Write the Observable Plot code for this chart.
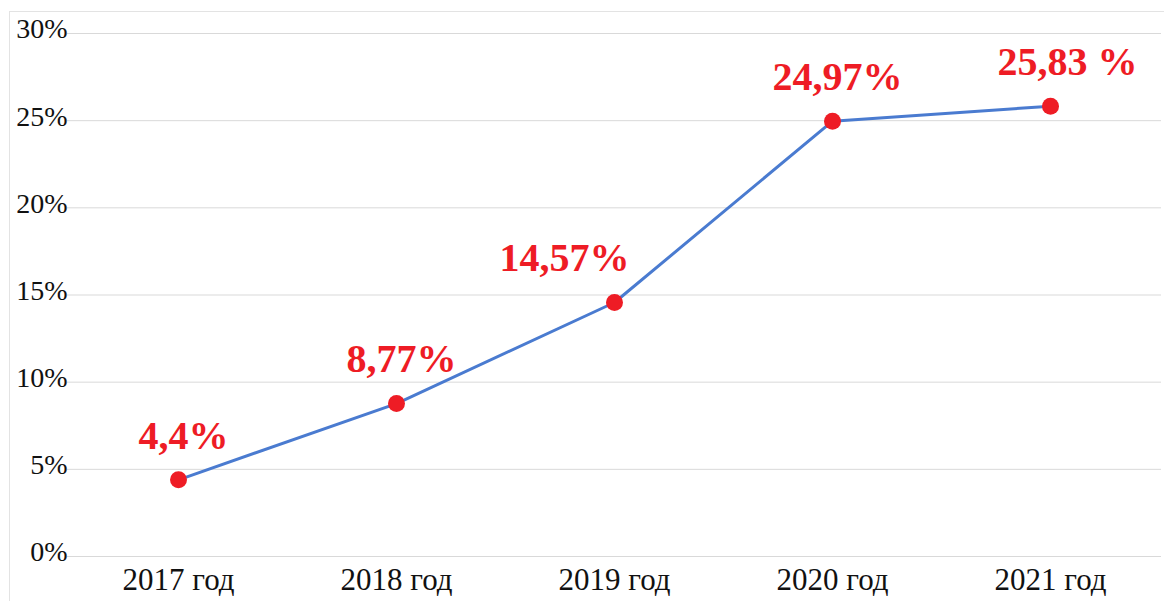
<!DOCTYPE html>
<html>
<head>
<meta charset="utf-8">
<script src="https://cdn.jsdelivr.net/npm/d3@7"></script>
<script src="https://cdn.jsdelivr.net/npm/@observablehq/plot@0.6"></script>
<style>
  html, body { margin: 0; padding: 0; background: #fff; }
  #wrap { position: relative; width: 1164px; height: 601px; overflow: hidden; }
  #frame { position: absolute; left: 9px; top: 11px; right: -5px; bottom: -5px;
           border-left: 1.5px solid #e3e3e3; border-top: 1.5px solid #e3e3e3; }
  #chart { position: absolute; left: 0; top: 0; }
</style>
</head>
<body>
<div id="wrap"><div id="frame"></div><div id="chart"></div></div>
<script>
const years = ["2017 год", "2018 год", "2019 год", "2020 год", "2021 год"];
const values = [4.4, 8.77, 14.57, 24.97, 25.83];
const labels = ["4,4%", "8,77%", "14,57%", "24,97%", "25,83 %"];
const yTicks = [0, 5, 10, 15, 20, 25, 30];

const data = years.map((y, i) => ({year: y, value: values[i], label: labels[i]}));
const serif = "'Liberation Serif', 'Times New Roman', serif";

const labelStyle = {x: "year", y: "value", text: "label",
  fill: "#ee1c25", fontWeight: "bold", fontSize: 40, dy: -44};

const chart = Plot.plot({
  width: 1164,
  height: 601,
  marginLeft: 67,
  marginRight: 3,
  marginTop: 33,
  marginBottom: 45,
  style: {fontFamily: serif, background: "transparent", overflow: "visible"},
  x: {type: "point", domain: years, padding: 0.5, label: null},
  y: {domain: [0, 30], label: null},
  marks: [
    Plot.gridY(yTicks, {stroke: "#d9d9d9", strokeOpacity: 1, strokeWidth: 1}),
    Plot.axisY(yTicks, {tickSize: 0, tickPadding: 0, tickFormat: d => d + "%",
      fontSize: 28, fill: "#111", dy: -4}),
    Plot.axisX({tickSize: 0, tickPadding: 11, fontSize: 31, fill: "#111"}),
    Plot.line(data, {x: "year", y: "value", stroke: "#4a7bd0", strokeWidth: 3}),
    Plot.dot(data, {x: "year", y: "value", r: 8.5, fill: "#ee1c25", stroke: "none"}),
    Plot.text(data.filter((d, i) => i !== 2 && i !== 4), {...labelStyle, dx: 5}),
    Plot.text(data.filter((d, i) => i === 2), {...labelStyle, dx: -50}),
    Plot.text(data.filter((d, i) => i === 4), {...labelStyle, dx: 17})
  ]
});
document.getElementById("chart").appendChild(chart);
</script>
</body>
</html>
